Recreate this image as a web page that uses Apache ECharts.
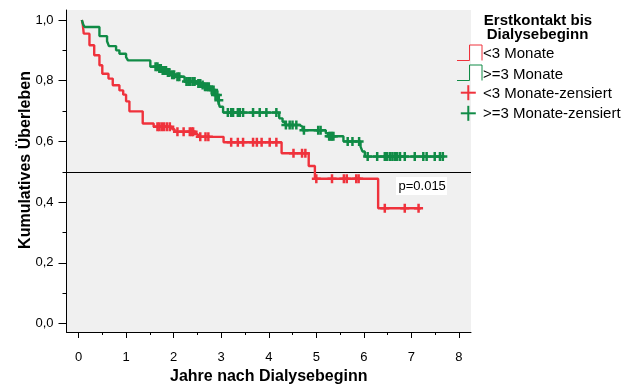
<!DOCTYPE html>
<html><head><meta charset="utf-8">
<script src="https://cdn.jsdelivr.net/npm/echarts@6/dist/echarts.min.js"></script>
<style>html,body{margin:0;padding:0;background:#fff}#c{width:634px;height:386px}</style>
</head><body><div id="c"></div>
<script>
// ---- data ----
const redTimes = [0.07,0.09,0.11,0.23,0.33,0.44,0.50,0.63,0.72,0.86,0.94,1.00,1.07,1.35,1.58,1.97,2.02,2.44,2.51,3.05,4.27,4.84,4.97,6.30,7.20];
const redSurv  = [1.0,0.985,0.955,0.917,0.884,0.851,0.823,0.807,0.785,0.768,0.754,0.732,0.699,0.659,0.648,0.640,0.632,0.624,0.615,0.597,0.561,0.519,0.477,0.380,0.380];
const redCensorTimes = [1.66,1.70,1.75,1.80,1.86,1.92,2.08,2.21,2.34,2.38,2.41,2.56,2.67,2.73,3.21,3.35,3.46,3.67,3.75,3.85,4.02,4.16,4.52,4.70,4.77,5.00,5.33,5.58,5.64,5.84,5.89,6.44,6.86,7.15];

const greenTimes = [0.07,0.10,0.13,0.44,0.60,0.64,0.79,0.86,1.00,1.04,1.51,1.70,1.75,1.85,1.95,2.05,2.23,2.48,2.58,2.65,2.76,2.86,2.93,2.97,3.04,4.22,4.29,4.34,4.65,4.71,5.20,5.25,5.57,5.93,5.97,6.02,7.68];
const greenSurv  = [1.0,0.985,0.977,0.947,0.93,0.914,0.90,0.889,0.878,0.867,0.846,0.840,0.834,0.827,0.820,0.813,0.797,0.791,0.786,0.780,0.769,0.753,0.736,0.714,0.695,0.676,0.665,0.654,0.648,0.637,0.627,0.617,0.600,0.583,0.567,0.550,0.550];
const greenCensorTimes = [1.62,1.66,1.70,1.73,1.77,1.80,1.84,1.88,1.91,1.97,2.01,2.08,2.12,2.27,2.31,2.35,2.40,2.44,2.52,2.56,2.61,2.66,2.70,2.74,2.80,2.84,2.88,2.92,2.95,3.14,3.21,3.25,3.35,3.39,3.46,3.67,3.81,3.95,4.16,4.36,4.44,4.50,4.58,4.74,5.04,5.09,5.27,5.30,5.33,5.36,5.66,5.76,5.90,6.08,6.28,6.44,6.49,6.55,6.60,6.65,6.70,6.76,6.86,7.07,7.25,7.32,7.49,7.60,7.66];

const xTickLabels = [0,1,2,3,4,5,6,7,8];
const xMinorTicks = [0.5,1.5,2.5,3.5,4.5,5.5,6.5,7.5];
const yTickLabels = [0,0.2,0.4,0.6,0.8,1.0];
const yMinorTicks = [0.1,0.3,0.5,0.7,0.9];
const referenceLine = 0.5;
const pValueText = 'p=0.015';
const xTitle = 'Jahre nach Dialysebeginn';
const yTitle = 'Kumulatives Überleben';
const legendTitle = ['Erstkontakt bis', 'Dialysebeginn'];
const seriesNames = ['<3 Monate', '>=3 Monate', '<3 Monate-zensiert', '>=3 Monate-zensiert'];

// ---- styling ----
const RED = '#ef323c', GREEN = '#108b46';
const FONT = '"Liberation Sans", Arial, sans-serif';
const XMIN = -0.2526, XMAX = 8.2526, YMIN = -0.028, YMAX = 1.033;
const PLUS = 'path://M3.25,0H5.75V3.25H9V5.75H5.75V9H3.25V5.75H0V3.25H3.25Z';

function steps(t, s) { return t.map((v, i) => [v, s[i]]); }
function survAt(t, s, x) { let v = s[0]; for (let i = 0; i < t.length; i++) { if (t[i] <= x) v = s[i]; } return v; }
function censors(ct, t, s) { return ct.map(x => [x, survAt(t, s, x)]); }
const comma = v => v.toFixed(1).replace('.', ',');

const chart = echarts.init(document.getElementById('c'), null, {renderer: 'canvas'});
const axisBlack = {color: '#000', width: 1};

function legendStep(y0, color) {
  return {type: 'polyline', shape: {points: [[457, y0 + 15.5], [469.5, y0 + 15.5], [469.5, y0], [482, y0], [482, y0 + 15.5]]},
    style: {stroke: color, lineWidth: 1, fill: null}, silent: true};
}
function legendPlus(cx, cy, color) {
  return {type: 'group', silent: true, children: [
    {type: 'line', shape: {x1: cx - 7.5, y1: cy, x2: cx + 7.5, y2: cy}, style: {stroke: color, lineWidth: 2}},
    {type: 'line', shape: {x1: cx, y1: cy - 7.5, x2: cx, y2: cy + 7.5}, style: {stroke: color, lineWidth: 2}}
  ]};
}
function txt(x, y, s, opts, z) {
  return {type: 'text', x: x, y: y, silent: true, z: z || 10,
    style: Object.assign({text: s, fill: '#000', font: '15px ' + FONT, textAlign: 'left', textVerticalAlign: 'middle', align: 'left', verticalAlign: 'middle'}, opts || {})};
}

chart.setOption({
  animation: false,
  textStyle: {fontFamily: FONT},
  grid: {left: 66.5, right: 163, top: 10, bottom: 54, show: true, backgroundColor: '#f0f0f0', borderWidth: 0,
         containLabel: false, outerBoundsMode: 'none'},
  xAxis: [
    {type: 'value', min: XMIN, max: XMAX, position: 'bottom', offset: 0,
     axisLine: {show: true, onZero: false, lineStyle: axisBlack},
     axisTick: {show: true, customValues: xTickLabels, length: 6, lineStyle: axisBlack},
     axisLabel: {show: true, customValues: xTickLabels, margin: 19, fontSize: 13, color: '#000', fontFamily: FONT},
     splitLine: {show: false},
     name: xTitle, nameLocation: 'middle', nameGap: 37,
     nameTextStyle: {fontWeight: 'bold', fontSize: 16, color: '#000', fontFamily: FONT}},
    {type: 'value', min: XMIN, max: XMAX, position: 'bottom', offset: 0,
     axisLine: {show: false, onZero: false},
     axisTick: {show: true, customValues: xMinorTicks, length: 3, lineStyle: axisBlack},
     axisLabel: {show: false}, splitLine: {show: false}}
  ],
  yAxis: [
    {type: 'value', min: YMIN, max: YMAX, position: 'left', offset: 0,
     axisLine: {show: true, onZero: false, lineStyle: axisBlack},
     axisTick: {show: true, customValues: yTickLabels, length: 8, lineStyle: axisBlack},
     axisLabel: {show: true, customValues: yTickLabels, margin: 13, fontSize: 13, color: '#000', fontFamily: FONT, formatter: comma},
     splitLine: {show: false}},
    {type: 'value', min: YMIN, max: YMAX, position: 'left', offset: 0,
     axisLine: {show: false, onZero: false},
     axisTick: {show: true, customValues: yMinorTicks, length: 4, lineStyle: axisBlack},
     axisLabel: {show: false}, splitLine: {show: false}}
  ],
  series: [
    {name: seriesNames[0], type: 'line', step: 'end', data: steps(redTimes, redSurv), showSymbol: false, symbol: 'none',
     lineStyle: {color: RED, width: 2.4}, itemStyle: {color: RED}, silent: true, z: 3,
     markLine: {silent: true, symbol: 'none', label: {show: false}, lineStyle: {color: '#000', width: 1, type: 'solid'},
       data: [{yAxis: referenceLine}], z: 1}},
    {name: seriesNames[1], type: 'line', step: 'end', data: steps(greenTimes, greenSurv), showSymbol: false, symbol: 'none',
     lineStyle: {color: GREEN, width: 2.4}, itemStyle: {color: GREEN}, silent: true, z: 3},
    {name: seriesNames[2], type: 'scatter', data: censors(redCensorTimes, redTimes, redSurv), symbol: PLUS, symbolSize: 9,
     itemStyle: {color: RED, opacity: 1}, silent: true, z: 4},
    {name: seriesNames[3], type: 'scatter', data: censors(greenCensorTimes, greenTimes, greenSurv), symbol: PLUS, symbolSize: 9,
     itemStyle: {color: GREEN, opacity: 1}, silent: true, z: 4}
  ],
  graphic: [
    {type: 'text', x: 26, y: 160, rotation: Math.PI / 2, silent: true,
     style: {text: yTitle, fill: '#000', font: 'bold 16px ' + FONT, textAlign: 'center', textVerticalAlign: 'middle', align: 'center', verticalAlign: 'middle'}},
    {type: 'rect', shape: {x: 396, y: 177, width: 51, height: 18}, style: {fill: '#fff'}, silent: true, z: 50},
    txt(398.5, 186.5, pValueText, {font: '13px ' + FONT}, 60),
    txt(538, 20.8, legendTitle[0], {font: 'bold 15px ' + FONT, textAlign: 'center', align: 'center'}),
    txt(537.5, 34.5, legendTitle[1], {font: 'bold 15px ' + FONT, textAlign: 'center', align: 'center'}),
    legendStep(45, RED),
    txt(483, 54.3, seriesNames[0]),
    legendStep(65, GREEN),
    txt(483, 75, seriesNames[1]),
    legendPlus(468.3, 92.7, RED),
    txt(483, 94.3, seriesNames[2]),
    legendPlus(468.3, 113.3, GREEN),
    txt(483, 114.3, seriesNames[3])
  ]
});
</script>
</body></html>
